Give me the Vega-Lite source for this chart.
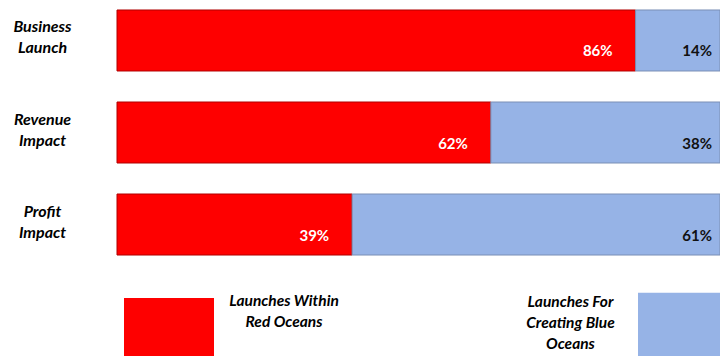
{
  "$schema": "https://vega.github.io/schema/vega-lite/v6.json",
  "width": 603,
  "height": 356,
  "autosize": {"type": "none"},
  "padding": {"left": 117, "top": 0, "right": 0, "bottom": 0},
  "background": "white",
  "config": {
    "view": {"stroke": null},
    "style": {"guide-label": {"lineHeight": 21}}
  },
  "data": {
    "values": [
      {"category": "Business Launch", "series": "Launches Within Red Oceans", "value": 0.86},
      {"category": "Business Launch", "series": "Launches For Creating Blue Oceans", "value": 0.14},
      {"category": "Revenue Impact", "series": "Launches Within Red Oceans", "value": 0.62},
      {"category": "Revenue Impact", "series": "Launches For Creating Blue Oceans", "value": 0.38},
      {"category": "Profit Impact", "series": "Launches Within Red Oceans", "value": 0.39},
      {"category": "Profit Impact", "series": "Launches For Creating Blue Oceans", "value": 0.61}
    ]
  },
  "transform": [
    {"stack": "value", "groupby": ["category"], "sort": [{"field": "series", "order": "descending"}], "as": ["v0", "v1"]}
  ],
  "encoding": {
    "y": {
      "field": "category",
      "type": "nominal",
      "sort": ["Business Launch", "Revenue Impact", "Profit Impact"],
      "scale": {"paddingInner": 0.337, "paddingOuter": 0.603, "align": 0.09},
      "axis": {
        "title": null,
        "domain": false,
        "ticks": false,
        "tickSize": 0,
        "labelPadding": 75,
        "labelAlign": "center",
        "labelBaseline": "middle",
        "labelOffset": -13,
        "labelExpr": "split(datum.label, ' ')",
        "labelLineHeight": 21,
        "labelFont": "Lato",
        "labelFontSize": 16,
        "labelFontWeight": "bold",
        "labelFontStyle": "italic",
        "labelColor": "#000000",
        "minExtent": 117,
        "maxExtent": 117
      }
    }
  },
  "layer": [
    {
      "transform": [{"filter": "datum.series === 'Launches Within Red Oceans'"}],
      "mark": {"type": "bar", "stroke": "#B00000", "strokeWidth": 1},
      "encoding": {
        "x": {"field": "v0", "type": "quantitative", "scale": {"domain": [0, 1], "nice": false, "zero": true}, "axis": null},
        "x2": {"field": "v1"},
        "color": {
          "field": "series",
          "type": "nominal",
          "scale": {"domain": ["Launches Within Red Oceans"], "range": ["#FE0000"]},
          "legend": {
            "orient": "none",
            "legendX": 7,
            "legendY": 256,
            "title": null,
            "padding": 0,
            "symbolType": "M-1,-0.067H1V1.25H-1Z",
            "symbolSize": 8100,
            "symbolStrokeWidth": 0,
            "symbolOpacity": 1,
            "labelOffset": 70,
            "labelAlign": "center",
            "labelBaseline": "middle",
            "labelLimit": 300,
            "labelExpr": "[slice(datum.label, 0, 15), slice(datum.label, 16)]",
            "labelFont": "Lato",
            "labelFontSize": 15.5,
            "labelFontWeight": "bold",
            "labelFontStyle": "italic",
            "labelColor": "#000000"
          }
        }
      }
    },
    {
      "transform": [{"filter": "datum.series === 'Launches For Creating Blue Oceans'"}],
      "mark": {"type": "bar", "stroke": "#7A8FB5", "strokeWidth": 1},
      "encoding": {
        "x": {"field": "v0", "type": "quantitative"},
        "x2": {"field": "v1"},
        "fill": {
          "field": "series",
          "type": "nominal",
          "scale": {"domain": ["Launches For Creating Blue Oceans"], "range": ["#96B3E6"]},
          "legend": {
            "orient": "none",
            "legendX": 521,
            "legendY": 257,
            "title": null,
            "padding": 0,
            "symbolType": "M-1,-0.207H1V1.25H-1Z",
            "symbolSize": 8100,
            "symbolStrokeWidth": 0,
            "symbolOpacity": 1,
            "labelOffset": -157.5,
            "labelAlign": "center",
            "labelBaseline": "middle",
            "labelLimit": 300,
            "labelExpr": "[slice(datum.label, 0, 12), slice(datum.label, 13, 26), slice(datum.label, 27)]",
            "labelFont": "Lato",
            "labelFontSize": 15.5,
            "labelFontWeight": "bold",
            "labelFontStyle": "italic",
            "labelColor": "#000000"
          }
        }
      }
    },
    {
      "transform": [{"filter": "datum.series === 'Launches Within Red Oceans'"}],
      "mark": {"type": "text", "align": "right", "baseline": "middle", "dx": -23, "dy": 11, "font": "Lato", "fontSize": 15, "fontWeight": "bold", "color": "#FFFFFF"},
      "encoding": {
        "x": {"field": "v1", "type": "quantitative"},
        "text": {"field": "value", "type": "quantitative", "format": ".0%"}
      }
    },
    {
      "transform": [{"filter": "datum.series === 'Launches For Creating Blue Oceans'"}],
      "mark": {"type": "text", "align": "right", "baseline": "middle", "dx": -8, "dy": 11, "font": "Lato", "fontSize": 15, "fontWeight": "bold", "color": "#111111"},
      "encoding": {
        "x": {"field": "v1", "type": "quantitative"},
        "text": {"field": "value", "type": "quantitative", "format": ".0%"}
      }
    }
  ]
}
